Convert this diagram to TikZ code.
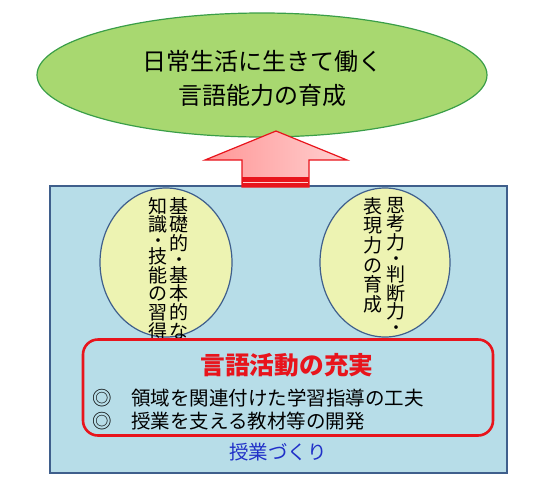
\documentclass[tikz,border=0pt]{standalone}
\usepackage{fontspec}
\setmainfont{Noto Sans CJK JP}
\usepackage{tikz}
\usetikzlibrary{positioning,shapes.geometric}
\definecolor{leaf}{HTML}{A8D870}
\definecolor{leafd}{HTML}{3A9E48}
\definecolor{panelc}{HTML}{B7DDE8}
\definecolor{paneld}{HTML}{3F5F8C}
\definecolor{pale}{HTML}{EDF3B2}
\definecolor{redc}{HTML}{E8141C}
\definecolor{arrowl}{HTML}{FF9696}
\definecolor{arrowr}{HTML}{FFD0D0}
\definecolor{bluec}{HTML}{2030C8}
% a centred dot that takes less room in a vertical column
\newcommand{\tdot}{\\[-4.9pt]{\fontsize{13}{13}\selectfont\bfseries ・}\\[-0.3pt]}

\begin{document}
\begin{tikzpicture}[x=1pt, y=-1pt,
  goal/.style ={ellipse, draw=leafd, fill=leaf, line width=1.2pt,
                minimum width=450pt, minimum height=124pt, inner sep=0pt},
  big/.style  ={align=center, font=\fontsize{24}{34}\selectfont, inner sep=0pt},
  panel/.style={draw=paneld, fill=panelc, line width=1.6pt,
                minimum width=457pt, minimum height=287pt, inner sep=0pt},
  aim/.style  ={ellipse, draw=paneld, fill=pale, line width=1.2pt, inner sep=0pt,
                minimum height=149pt},
  tate/.style ={align=center, anchor=north, inner sep=0pt,
                font=\fontsize{19}{18.6}\selectfont},
  act/.style  ={draw=redc, line width=2.6pt, rounded corners=15pt,
                minimum width=410pt, minimum height=96pt, inner sep=0pt},
  item/.style ={align=left, anchor=west, inner sep=0pt,
                font=\fontsize{19.5}{23}\selectfont}
]
\useasboundingbox (0,0) rectangle (543,488);

% ---------- goal ----------
\node[goal] (goal) at (262,75) {};
\node[big]  (goaltxt) at ([yshift=-3pt]goal.center)
  {日常生活に生きて働く\\言語能力の育成};

% ---------- lesson panel ----------
\node[panel] (panel) at (278.5,329.5) {};

% ---------- up arrow ----------
\shadedraw[left color=arrowl, right color=arrowr, draw=redc, line width=1.2pt]
  (242,187) -- (242,160) -- (205,160) -- (276,131) -- (347,160)
  -- (309,160) -- (309,187) -- cycle;
\fill[redc] (242,177) rectangle (309,187);
\draw[arrowr, line width=0.8pt] (243,182) -- (308,182);

% ---------- two aims ----------
\node[aim, minimum width=132pt] (know)  at (166,262.5) {};
\node[aim, minimum width=130pt] (think) at (385,262.5) {};

\node[tate] (knowa)  at (179,197) {基\\礎\\的\tdot 基\\本\\的\\な};
\node[tate] (knowb)  at (158,197) {知\\識\tdot 技\\能\\の\\習\\得};
\node[tate] (thinka) at (396,197) {思\\考\\力\tdot 判\\断\\力\tdot};
\node[tate, font=\fontsize{19}{19.7}\selectfont]
            (thinkb) at (373,197) {表\\現\\力\\の\\育\\成};

% ---------- language activity ----------
\node[act] (act) at (288,387.5) {};
\node[redc, font=\fontsize{24.7}{28}\selectfont\bfseries, inner sep=0pt]
  (acttitle) at (287,365) {言語活動の充実};
\node[item] (items) at (92,409.5)
  {◎　領域を関連付けた学習指導の工夫\\◎　授業を支える教材等の開発};

\node[bluec, font=\fontsize{19.5}{23}\selectfont, inner sep=0pt]
  (lesson) at (278,452) {授業づくり};
\end{tikzpicture}
\end{document}
